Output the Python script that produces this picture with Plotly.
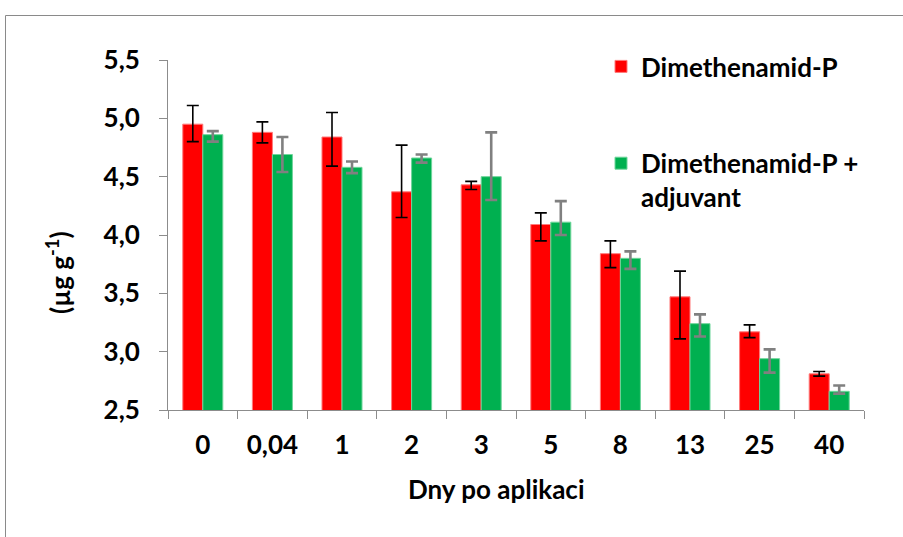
import plotly.graph_objects as go

# Days after application (category labels, decimal comma)
days = ["0", "0,04", "1", "2", "3", "5", "8", "13", "25", "40"]

# Dimethenamid-P (µg g-1) with upper / lower error
dmp = [4.95, 4.88, 4.84, 4.37, 4.43, 4.09, 3.84, 3.47, 3.17, 2.81]
dmp_err_plus = [0.16, 0.09, 0.21, 0.40, 0.03, 0.10, 0.11, 0.22, 0.06, 0.02]
dmp_err_minus = [0.15, 0.09, 0.25, 0.22, 0.04, 0.14, 0.12, 0.36, 0.05, 0.02]

# Dimethenamid-P + adjuvant (µg g-1) with upper / lower error
adj = [4.86, 4.69, 4.58, 4.66, 4.50, 4.11, 3.80, 3.24, 2.94, 2.66]
adj_err_plus = [0.03, 0.15, 0.05, 0.03, 0.38, 0.18, 0.06, 0.08, 0.08, 0.05]
adj_err_minus = [0.06, 0.15, 0.05, 0.04, 0.20, 0.11, 0.09, 0.11, 0.12, 0.02]

y_ticks = [2.5, 3.0, 3.5, 4.0, 4.5, 5.0, 5.5]

FONT = "Lato"
FSIZE = 26
AXIS_GREY = "#8c8c8c"

fig = go.Figure()

fig.add_trace(go.Bar(
    x=days, y=dmp, name="Dimethenamid-P", legendgroup="a",
    marker=dict(color="#FF0000", line=dict(color="#ff7a7a", width=1)),
    error_y=dict(type="data", symmetric=False, array=dmp_err_plus,
                 arrayminus=dmp_err_minus, color="#000000",
                 thickness=1.6, width=6),
))
fig.add_trace(go.Bar(
    x=days, y=adj, name="Dimethenamid-P +<br>adjuvant", legendgroup="b",
    marker=dict(color="#00B050", line=dict(color="#6fd59b", width=1)),
    error_y=dict(type="data", symmetric=False, array=adj_err_plus,
                 arrayminus=adj_err_minus, color="#808080",
                 thickness=2.6, width=6),
))

# plot area: x 168..864, y 60..410 (px)
L, R, T, B = 168, 39, 60, 127
W, H = 903, 537
pw, ph = W - L - R, H - T - B


def px_x(px):
    return (px - L) / pw


def px_y(py):
    return (H - B - py) / ph


bold = dict(family=FONT, size=FSIZE, color="black", weight="bold")

fig.update_layout(
    width=W, height=H,
    margin=dict(l=L, r=R, t=T, b=B, pad=0),
    paper_bgcolor="white", plot_bgcolor="white",
    separators=",.",
    barmode="group", bargap=0.425, bargroupgap=0,
    font=bold,
    showlegend=True,
    legend=dict(
        x=px_x(601), y=px_y(43), xanchor="left", yanchor="top",
        bgcolor="rgba(0,0,0,0)", borderwidth=0,
        font=bold,
        valign="top", tracegroupgap=60, traceorder="grouped",
    ),
    xaxis=dict(
        type="category", showline=True, linecolor=AXIS_GREY, linewidth=1,
        ticks="outside", ticklen=8, tickcolor=AXIS_GREY, tickwidth=1,
        tickson="boundaries", showgrid=False, zeroline=False,
        tickfont=bold,
        ticklabelstandoff=12,
    ),
    yaxis=dict(
        range=[2.5, 5.5], tickvals=y_ticks, tickformat=".1f",
        showline=True, linecolor=AXIS_GREY, linewidth=1,
        ticks="outside", ticklen=8, tickcolor=AXIS_GREY, tickwidth=1,
        showgrid=False, zeroline=False,
        tickfont=bold,
        ticklabelstandoff=14,
    ),
    shapes=[dict(
        type="rect", xref="paper", yref="paper",
        x0=px_x(5.5), x1=px_x(960), y0=px_y(600), y1=px_y(15.5),
        line=dict(color="#8a8a8a", width=1), fillcolor="rgba(0,0,0,0)",
        layer="below",
    )],
    annotations=[
        dict(text="(µg g<sup>-1</sup>)", xref="paper", yref="paper",
             x=px_x(58), y=px_y(273), xanchor="center", yanchor="middle",
             textangle=-90, showarrow=False, font=bold),
        dict(text="Dny po aplikaci", xref="paper", yref="paper",
             x=px_x(496), y=px_y(489), xanchor="center", yanchor="middle",
             showarrow=False, font=bold),
    ],
)

fig.write_html("out.html")
